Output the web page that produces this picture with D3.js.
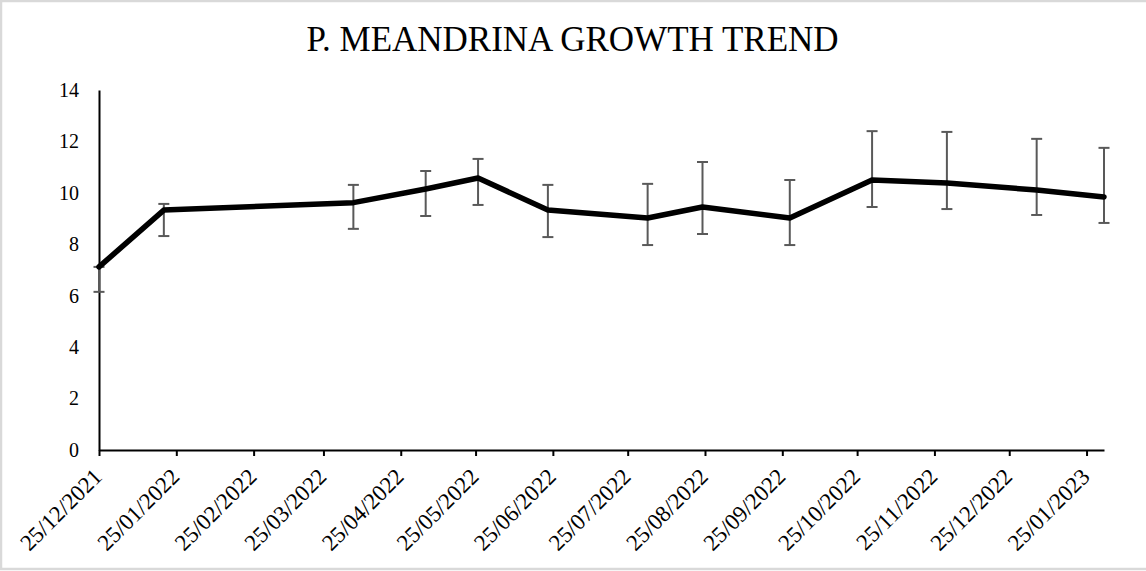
<!DOCTYPE html>
<html>
<head>
<meta charset="utf-8">
<script src="https://cdn.jsdelivr.net/npm/d3@7"></script>
<style>
  html, body { margin: 0; padding: 0; background: #fff; }
  svg { display: block; }
  svg text { font-family: 'Liberation Serif', 'Times New Roman', serif; fill: #000; }
</style>
</head>
<body>
<svg id="chart" width="1146" height="571"></svg>
<script>
// ---- data ----
const title = "P. MEANDRINA GROWTH TREND";
const dates = ["2021-12-25","2022-01-20","2022-04-06","2022-05-05","2022-05-26","2022-06-23",
               "2022-08-02","2022-08-24","2022-09-28","2022-10-31","2022-11-30","2023-01-05","2023-02-01"];
const values = [7.12, 9.33, 9.62, 10.15, 10.58, 9.33, 9.02, 9.45, 9.02, 10.5, 10.38, 10.11, 9.84];
const errUpper = [7.12, 9.57, 10.31, 10.85, 11.32, 10.31, 10.35, 11.2, 10.5, 12.4, 12.37, 12.1, 11.75];
const errLower = [6.15, 8.32, 8.6, 9.1, 9.53, 8.28, 7.97, 8.4, 7.97, 9.45, 9.37, 9.14, 8.83];
const xTickDates = ["2021-12-25","2022-01-25","2022-02-25","2022-03-25","2022-04-25","2022-05-25",
                    "2022-06-25","2022-07-25","2022-08-25","2022-09-25","2022-10-25","2022-11-25",
                    "2022-12-25","2023-01-25"];
const xDomain = ["2021-12-25", "2023-02-01"];
const yTicks = [0, 2, 4, 6, 8, 10, 12, 14];

// ---- setup ----
const parse = d3.utcParse("%Y-%m-%d");
const fmt = d3.utcFormat("%d/%m/%Y");
const svg = d3.select("#chart");
const W = 1146, H = 571;
const FONT = "'Liberation Serif', 'Times New Roman', serif";

svg.append("rect").attr("x", 1).attr("y", 1).attr("width", W + 2).attr("height", H - 3)
  .attr("fill", "#fff").attr("stroke", "#d9d9d9").attr("stroke-width", 2.5);

const x = d3.scaleUtc().domain(xDomain.map(parse)).range([99, 1104]);
const y = d3.scaleLinear().domain([0, 14]).range([450, 90]);

const pts = dates.map((d, i) => ({ date: parse(d), v: values[i], hi: errUpper[i], lo: errLower[i] }));

// title
svg.append("text").attr("x", 572.5).attr("y", 51).attr("text-anchor", "middle")
  .attr("font-family", FONT).attr("font-size", 35).text(title);

// y axis
const yAxis = d3.axisLeft(y).tickValues(yTicks).tickSize(0).tickPadding(20).tickFormat(d3.format("d"));
const gy = svg.append("g").attr("transform", "translate(99,0)").call(yAxis)
  .attr("font-family", FONT).attr("font-size", 20);
gy.select(".domain").attr("stroke", "#000").attr("stroke-width", 2);

// x axis
const xAxis = d3.axisBottom(x).tickValues(xTickDates.map(parse)).tickSize(6).tickSizeOuter(0).tickFormat(fmt);
const gx = svg.append("g").attr("transform", "translate(0,450)").call(xAxis)
  .attr("font-family", FONT).attr("font-size", 23);
gx.select(".domain").attr("stroke", "#000").attr("stroke-width", 2);
gx.selectAll(".tick line").attr("stroke", "#000").attr("stroke-width", 2);
gx.selectAll("text")
  .attr("text-anchor", "end")
  .attr("transform", "translate(4,28) rotate(-45)")
  .attr("x", 0).attr("y", 0).attr("dy", "0").attr("dx", "0");

// error bars
const eb = svg.append("g").attr("stroke", "#595959").attr("stroke-width", 2).attr("fill", "none");
pts.forEach(p => {
  const cx = x(p.date);
  eb.append("line").attr("x1", cx).attr("x2", cx).attr("y1", y(p.hi)).attr("y2", y(p.lo));
  eb.append("line").attr("x1", cx - 5.5).attr("x2", cx + 5.5).attr("y1", y(p.hi)).attr("y2", y(p.hi));
  eb.append("line").attr("x1", cx - 5.5).attr("x2", cx + 5.5).attr("y1", y(p.lo)).attr("y2", y(p.lo));
});

// line
const line = d3.line().x(d => x(d.date)).y(d => y(d.v));
svg.append("path").datum(pts).attr("d", line)
  .attr("fill", "none").attr("stroke", "#000").attr("stroke-width", 5.5)
  .attr("stroke-linejoin", "round").attr("stroke-linecap", "round");
</script>
</body>
</html>
